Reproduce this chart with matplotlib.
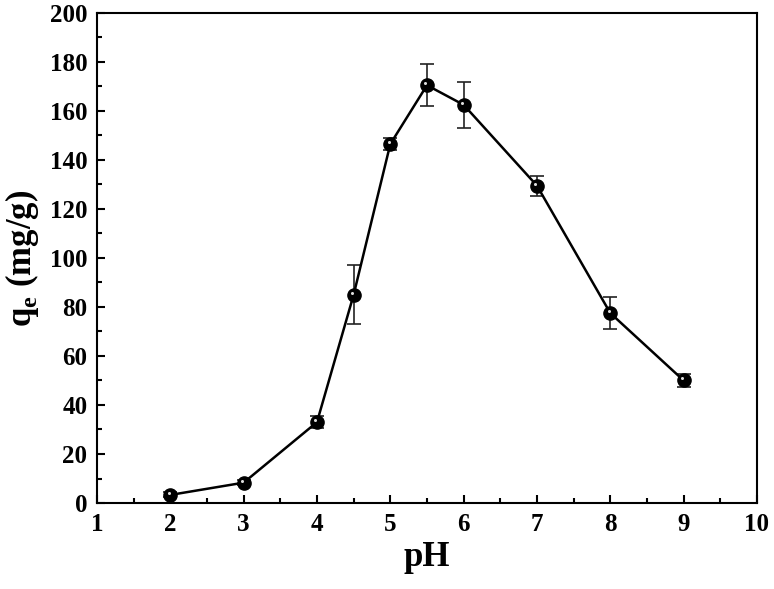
import matplotlib
matplotlib.use('Agg')
import matplotlib.pyplot as plt
from matplotlib.ticker import MultipleLocator
from matplotlib.transforms import offset_copy

plt.rcParams['font.family'] = 'Liberation Serif'
plt.rcParams['font.weight'] = 'bold'
plt.rcParams['mathtext.fontset'] = 'custom'
plt.rcParams['mathtext.rm'] = 'Liberation Serif:bold'
plt.rcParams['mathtext.bf'] = 'Liberation Serif:bold'

# adsorption capacity vs pH
pH = [2, 3, 4, 4.5, 5, 5.5, 6, 7, 8, 9]
qe = [3.3, 8.3, 33, 85, 146.5, 170.5, 162.5, 129.5, 77.5, 50]
qe_err = [1.0, 1.0, 2.5, 12, 2.5, 8.5, 9.5, 4, 6.5, 2.5]

fig = plt.figure(figsize=(7.74, 5.89), dpi=100)
ax = fig.add_axes([0.1253, 0.146, 0.8527, 0.832])

ax.errorbar(pH, qe, yerr=qe_err, fmt='none', ecolor='#222222', elinewidth=1.2,
            capsize=5, capthick=1.2, zorder=2)
ax.plot(pH, qe, '-', color='black', lw=1.8, zorder=3)
ax.plot(pH, qe, 'o', color='black', ms=9.5, zorder=4)
# small highlight on the spheres, nudged up-left
hl = offset_copy(ax.transData, fig=fig, x=-1.2, y=1.5, units='points')
ax.plot(pH, qe, 'o', color='#dddddd', ms=2.2, mew=0, transform=hl, zorder=5)

ax.set_xlim(1, 10)
ax.set_ylim(0, 200)
ax.xaxis.set_major_locator(MultipleLocator(1))
ax.xaxis.set_minor_locator(MultipleLocator(0.5))
ax.yaxis.set_major_locator(MultipleLocator(20))
ax.yaxis.set_minor_locator(MultipleLocator(10))
ax.tick_params(which='both', direction='in', top=False, right=False, width=1.5)
ax.tick_params(which='major', length=6, labelsize=18, pad=7)
ax.tick_params(which='minor', length=3.5)
for s in ax.spines.values():
    s.set_linewidth(1.5)
for lab in ax.get_xticklabels() + ax.get_yticklabels():
    lab.set_fontweight('bold')

ax.set_xlabel('pH', fontsize=25, fontweight='bold', labelpad=4)
ax.set_ylabel(r'q$_\mathregular{e}$ (mg/g)', fontsize=25, fontweight='bold', labelpad=6)

fig.savefig('out.png', dpi=100)
